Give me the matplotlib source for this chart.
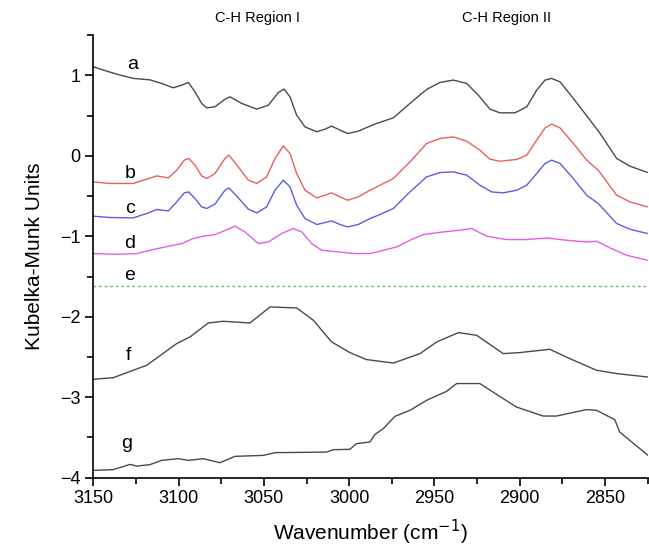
import matplotlib
matplotlib.use("Agg")
import matplotlib.pyplot as plt
from matplotlib.ticker import MultipleLocator
import matplotlib.transforms as mtransforms

plt.rcParams['font.family'] = ['Liberation Sans', 'DejaVu Sans']

# ---- data (wavenumber, Kubelka-Munk units) ----
a_x = [3150, 3142.1, 3134.3, 3126.6, 3116.8, 3109.9, 3103.1, 3098.2, 3094.3, 3090.4, 3086.5, 3083.5, 3078.7,
       3072.8, 3069.9, 3063, 3054.2, 3047.4, 3041.5, 3038.2, 3034.7, 3030.8, 3025.9, 3019, 3014.2, 3010.3,
       3005.4, 3000.9, 2994.7, 2987.8, 2983.9, 2974.1, 2964.4, 2954.6, 2946.8, 2938.9, 2931.1, 2924.3,
       2917.5, 2911.6, 2902.8, 2895.9, 2890.1, 2885.2, 2881.3, 2876.4, 2868.6, 2858.8, 2852.9, 2843.2,
       2835.4, 2825.2]
a_y = [1.107, 1.053, 1.004, 0.963, 0.945, 0.90, 0.846, 0.879, 0.913, 0.796, 0.652, 0.597, 0.61,
       0.705, 0.734, 0.652, 0.581, 0.63, 0.788, 0.83, 0.734, 0.506, 0.36, 0.30, 0.332, 0.37,
       0.32, 0.278, 0.307, 0.37, 0.403, 0.473, 0.652, 0.826, 0.913, 0.942, 0.90, 0.755,
       0.581, 0.535, 0.535, 0.61, 0.817, 0.942, 0.963, 0.92, 0.714, 0.444, 0.278, -0.032,
       -0.128, -0.206]

b_x = [3150, 3140.2, 3126.6, 3118.7, 3112.8, 3106, 3101.1, 3096.7, 3094.1, 3090.4, 3086.5, 3083.5, 3078.7,
       3072.8, 3070.5, 3065, 3059.1, 3054.2, 3048.4, 3043.5, 3038.6, 3034.7, 3030.8, 3025.9, 3019, 3014.2,
       3010.3, 3005.4, 3000.9, 2994.7, 2987.8, 2983.9, 2974.1, 2964.4, 2954.6, 2946.8, 2938.9, 2931.1,
       2923.4, 2917.5, 2911.6, 2901.8, 2895.9, 2890.1, 2885.2, 2881.3, 2876.4, 2868.6, 2860.8, 2854,
       2843.2, 2835.4, 2825.2]
b_y = [-0.323, -0.343, -0.343, -0.29, -0.249, -0.274, -0.178, -0.053, -0.032, -0.116, -0.249, -0.281, -0.219,
       -0.032, 0.009, -0.137, -0.302, -0.343, -0.261, -0.032, 0.124, 0.03, -0.219, -0.427, -0.522, -0.489,
       -0.46, -0.51, -0.551, -0.51, -0.427, -0.386, -0.281, -0.075, 0.154, 0.216, 0.236, 0.183,
       0.071, -0.041, -0.066, -0.045, 0.009, 0.195, 0.348, 0.394, 0.348, 0.154, -0.053, -0.178,
       -0.489, -0.572, -0.634]

c_x = [3150, 3140.2, 3126.6, 3118.7, 3112.8, 3106, 3101.1, 3096.7, 3094.1, 3090.4, 3086.5, 3083.5, 3078.7,
       3072.8, 3070.5, 3065, 3059.1, 3054.2, 3048.4, 3043.5, 3038.6, 3034.7, 3030.8, 3025.9, 3019, 3014.2,
       3010.3, 3005.4, 3000.9, 2994.7, 2987.8, 2983.9, 2974.1, 2964.4, 2954.6, 2946.8, 2938.9, 2931.1,
       2923.4, 2916.5, 2909.7, 2901.8, 2895.9, 2890.1, 2885.2, 2881.3, 2876.4, 2868.6, 2860.8, 2854,
       2843.2, 2835.4, 2825.2]
c_y = [-0.75, -0.766, -0.771, -0.716, -0.667, -0.684, -0.572, -0.46, -0.448, -0.53, -0.634, -0.654, -0.60,
       -0.427, -0.398, -0.522, -0.663, -0.709, -0.634, -0.427, -0.302, -0.386, -0.613, -0.779, -0.853, -0.829,
       -0.808, -0.853, -0.883, -0.853, -0.779, -0.746, -0.654, -0.448, -0.261, -0.207, -0.199, -0.24,
       -0.364, -0.448, -0.46, -0.427, -0.364, -0.219, -0.095, -0.053, -0.095, -0.281, -0.489, -0.592,
       -0.841, -0.912, -0.965]

d_x = [3150, 3136.3, 3124.6, 3114.8, 3105, 3098.2, 3091.4, 3085.5, 3078.7, 3073.8, 3066.9, 3061.1, 3053.3,
       3047.4, 3039.6, 3032.8, 3027.8, 3022, 3016.1, 3006.4, 2996.6, 2987.8, 2982, 2972.2, 2964.4, 2956.6,
       2944.8, 2935, 2928.2, 2919.4, 2907.7, 2895.9, 2884.2, 2872.5, 2860.8, 2854.9, 2847.1, 2837.4, 2825.2]
d_y = [-1.214, -1.223, -1.214, -1.164, -1.119, -1.09, -1.027, -0.999, -0.978, -0.937, -0.874, -0.945, -1.09,
       -1.07, -0.965, -0.903, -0.945, -1.09, -1.173, -1.194, -1.214, -1.214, -1.185, -1.132, -1.049, -0.978,
       -0.945, -0.924, -0.903, -0.999, -1.04, -1.04, -1.02, -1.049, -1.07, -1.061, -1.144, -1.235, -1.297]

e_x = [3150, 2825]
e_y = [-1.617, -1.617]

f_x = [3150, 3138.3, 3118.7, 3101.1, 3093.3, 3082.6, 3073.8, 3058.2, 3046.4, 3030.8, 3021, 3010.3, 2999.6,
       2989.9, 2974.1, 2958.5, 2948.7, 2936, 2925.3, 2909.7, 2900, 2882.4, 2870.7, 2855, 2843.3, 2824.8]
f_y = [-2.777, -2.757, -2.603, -2.333, -2.25, -2.077, -2.056, -2.077, -1.878, -1.89, -2.043, -2.313, -2.445,
       -2.532, -2.575, -2.458, -2.313, -2.197, -2.23, -2.458, -2.445, -2.404, -2.52, -2.665, -2.706, -2.749]

g_x = [3150, 3138.3, 3128.5, 3124.6, 3116.8, 3110, 3100.2, 3094.3, 3085.5, 3075.7, 3067, 3050.4, 3043.5,
       3013.2, 3009.4, 2999.6, 2995.7, 2987.9, 2985, 2980, 2973.2, 2964.4, 2954.6, 2942.9, 2937, 2923.4,
       2909.7, 2901.9, 2886.3, 2878.5, 2860.9, 2855, 2844.3, 2841.4, 2824.8]
g_y = [-3.909, -3.90, -3.835, -3.856, -3.838, -3.785, -3.764, -3.785, -3.764, -3.814, -3.735, -3.723, -3.689,
       -3.682, -3.652, -3.648, -3.577, -3.557, -3.465, -3.39, -3.238, -3.163, -3.038, -2.927, -2.83, -2.83,
       -3.017, -3.122, -3.234, -3.234, -3.154, -3.163, -3.279, -3.433, -3.723]

labels = ['a', 'b', 'c', 'd', 'e', 'f', 'g']
label_x = [3126.7, 3128.5, 3128.5, 3129, 3129, 3129.7, 3130.3]
label_y = [1.14, -0.215, -0.65, -1.09, -1.49, -2.48, -3.57]

region_titles = ['C-H Region I', 'C-H Region II']
region_x = [3053.5, 2907.6]

xticks = [3150, 3100, 3050, 3000, 2950, 2900, 2850]
yticks = [-4, -3, -2, -1, 0, 1]

# ---- figure ----
fig = plt.figure(figsize=(6.49, 5.50), dpi=100)
ax = fig.add_axes([0.1438, 0.1315, 0.998 - 0.1438, 0.936 - 0.1315])

dark = '#4a4a4a'
kw = dict(lw=1.0, solid_joinstyle='round', solid_capstyle='round')
ax.plot(a_x, a_y, color=dark, **kw)
ax.plot(b_x, b_y, color='#e8605c', **kw)
ax.plot(c_x, c_y, color='#5c5ce6', **kw)
ax.plot(d_x, d_y, color='#e45ee4', **kw)
ax.plot(e_x, e_y, color='#6cbf6c', lw=1.0, ls=(0, (2, 2)))
ax.plot(f_x, f_y, color=dark, **kw)
ax.plot(g_x, g_y, color=dark, **kw)

for t, x, y in zip(labels, label_x, label_y):
    ax.text(x, y, t, fontsize=14, ha='center', va='center', color='black')

trans = mtransforms.blended_transform_factory(ax.transData, fig.transFigure)
for t, x in zip(region_titles, region_x):
    ax.text(x, 0.967, t, transform=trans, fontsize=10.5, ha='center', va='center')

ax.set_xlim(3150, 2825)
ax.set_ylim(-4, 1.5)
ax.set_xticks(xticks)
ax.set_yticks(yticks)
ax.xaxis.set_minor_locator(MultipleLocator(25))
ax.yaxis.set_minor_locator(MultipleLocator(0.5))

for s in ['top', 'right']:
    ax.spines[s].set_visible(False)
for s in ['left', 'bottom']:
    ax.spines[s].set_linewidth(1.2)

ax.tick_params(which='major', direction='out', length=6, width=1.2, labelsize=13, pad=3)
ax.tick_params(which='minor', direction='out', length=4, width=1.2)

ax.set_xlabel('Wavenumber (cm$^{-1}$)', fontsize=15, labelpad=8)
ax.set_ylabel('Kubelka-Munk Units', fontsize=15, labelpad=12)

fig.savefig('out.png', dpi=100)
